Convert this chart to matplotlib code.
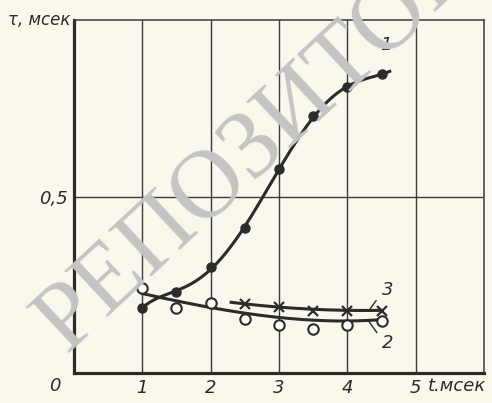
import numpy as np
import matplotlib.pyplot as plt

# data (t in msec, tau in msec)
t1 = [1.0, 1.5, 2.0, 2.5, 3.0, 3.5, 4.0, 4.5]
tau1 = [0.185, 0.23, 0.30, 0.41, 0.577, 0.727, 0.81, 0.847]

t2 = [1.0, 1.5, 2.0, 2.5, 3.0, 3.5, 4.0, 4.5]
tau2 = [0.24, 0.185, 0.199, 0.153, 0.136, 0.125, 0.136, 0.148]
# drawn trend line of series 2
line2_t = [1.0, 1.5, 2.0, 2.5, 3.0, 3.5, 4.0, 4.5]
line2_tau = [0.225, 0.205, 0.186, 0.169, 0.157, 0.150, 0.148, 0.151]

t3 = [2.5, 3.0, 3.5, 4.0, 4.5]
tau3 = [0.196, 0.187, 0.176, 0.176, 0.177]
line3_t = [2.3, 3.0, 3.5, 4.0, 4.5]
line3_tau = [0.200, 0.188, 0.180, 0.177, 0.178]

x_ticks = [1, 2, 3, 4, 5]
x_labels = ['1', '2', '3', '4', '5']
y_ticks = [0.5]
y_labels = ['0,5']

BG = '#faf7ec'
INK = '#2b2b2b'

fig = plt.figure(figsize=(4.92, 4.03), dpi=100, facecolor=BG)
ax = fig.add_axes([0.150, 0.0744, 0.834, 0.8756])
ax.set_facecolor('none')

# watermark
fig.text(0.135, 0.12, 'РЕПОЗИТОРИЙ', fontsize=70,
         family='Liberation Serif', color='#c4c4c4', rotation=43,
         rotation_mode='anchor', ha='left', va='baseline', zorder=0)

# curve 1 (smooth fit through the points)
c1 = np.polyfit(t1, tau1, 5)
xs = np.linspace(1.0, 4.62, 200)
ax.plot(xs, np.polyval(c1, xs), color=INK, lw=2.2, zorder=3)
ax.plot(t1, tau1, 'o', color=INK, ms=6.5, zorder=4)

# curve 2
c2 = np.polyfit(line2_t, line2_tau, 3)
xs = np.linspace(1.0, 4.5, 200)
ax.plot(xs, np.polyval(c2, xs), color=INK, lw=2.2, zorder=3)
ax.plot(t2, tau2, 'o', mfc='white', mec=INK, mew=1.5, ms=7.5, zorder=4)

# curve 3
c3 = np.polyfit(line3_t, line3_tau, 2)
xs = np.linspace(2.3, 4.5, 200)
ax.plot(xs, np.polyval(c3, xs), color=INK, lw=2.2, zorder=3)
ax.plot(t3, tau3, 'x', color=INK, mew=1.6, ms=7, zorder=4)

# curve labels with leaders
lab = dict(fontsize=13, style='italic', color=INK)
ax.text(4.48, 0.93, '1', ha='left', va='center', **lab)
ax.text(4.5, 0.235, '3', ha='left', va='center', **lab)
ax.text(4.5, 0.085, '2', ha='left', va='center', **lab)
ax.plot([4.33, 4.42], [0.181, 0.205], color=INK, lw=1.0)
ax.plot([4.32, 4.43], [0.145, 0.115], color=INK, lw=1.0)

ax.set_xlim(0, 6)
ax.set_ylim(0, 1)
ax.set_xticks(x_ticks)
ax.set_xticklabels(x_labels, fontsize=13, style='italic', color=INK)
ax.set_yticks(y_ticks)
ax.set_yticklabels(y_labels, fontsize=13, style='italic', color=INK)
ax.tick_params(length=0, pad=4)
ax.grid(True, color='#3a3a3a', lw=1.0)

for side in ['top', 'right']:
    ax.spines[side].set_linewidth(1.1)
    ax.spines[side].set_color('#3a3a3a')
for side in ['left', 'bottom']:
    ax.spines[side].set_linewidth(2.3)
    ax.spines[side].set_color(INK)

ax.text(-0.2, -0.012, '0', ha='right', va='top', fontsize=13, style='italic',
        color=INK)
ax.text(5.18, -0.012, 't.мсек', ha='left', va='top', fontsize=13,
        style='italic', color=INK)
ax.text(-0.05, 1.0, 'τ, мсек', ha='right', va='center', fontsize=12,
        style='italic', color=INK)

fig.savefig('out.png', dpi=100, facecolor=BG)
